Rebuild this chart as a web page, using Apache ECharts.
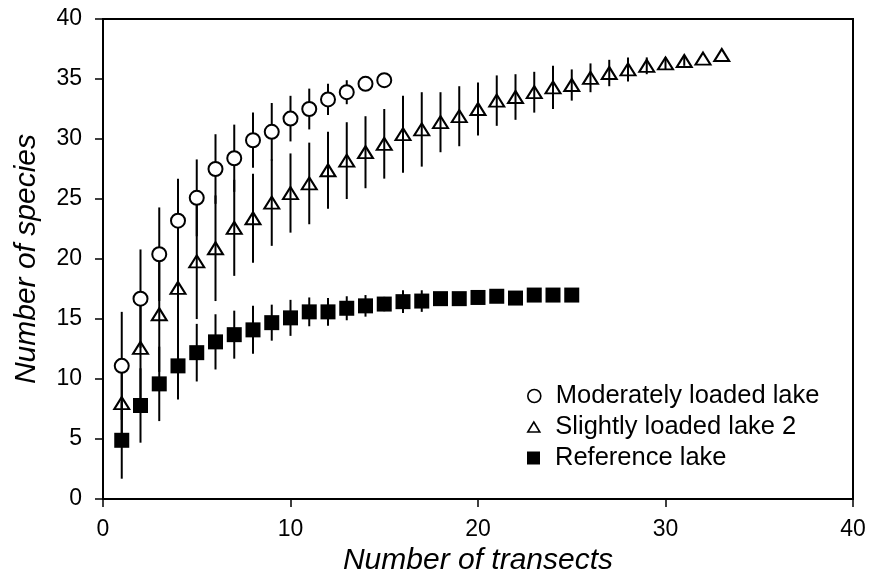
<!DOCTYPE html>
<html>
<head>
<meta charset="utf-8">
<script src="https://cdn.jsdelivr.net/npm/echarts@6/dist/echarts.min.js"></script>
<style>
  html, body { margin: 0; padding: 0; background: #fff; }
  #chart { width: 872px; height: 581px; }
</style>
</head>
<body>
<div id="chart"></div>
<script>
// ---- Data ----
const seriesNames = ['Moderately loaded lake', 'Slightly loaded lake 2', 'Reference lake'];

const modX   = [1,2,3,4,5,6,7,8,9,10,11,12,13,14,15];
const modY   = [11.1,16.7,20.4,23.2,25.1,27.5,28.4,29.9,30.6,31.7,32.5,33.3,33.9,34.6,34.9];
const modErr = [4.5,4.1,3.9,3.5,3.2,2.9,2.8,2.3,2.4,1.9,1.7,1.3,1.0,0,0];

const sliX   = [1,2,3,4,5,6,7,8,9,10,11,12,13,14,15,16,17,18,19,20,21,22,23,24,25,26,27,28,29,30,31,32,33];
const sliY   = [8.0,12.6,15.4,17.6,19.8,20.9,22.6,23.4,24.7,25.5,26.3,27.4,28.2,28.9,29.6,30.4,30.8,31.4,31.9,32.5,33.2,33.5,33.9,34.3,34.5,35.1,35.5,35.8,36.1,36.3,36.5,36.7,37.0];
const sliErr = [3.5,4.2,4.8,4.8,4.8,4.4,4.0,3.7,3.6,3.3,3.4,3.2,3.2,3.0,2.9,3.2,3.1,2.5,2.5,2.2,2.1,1.9,1.7,1.8,1.3,1.2,1.1,1.0,0.7,0.5,0.4,0,0];

const refX   = [1,2,3,4,5,6,7,8,9,10,11,12,13,14,15,16,17,18,19,20,21,22,23,24,25];
const refY   = [4.9,7.8,9.6,11.1,12.2,13.1,13.7,14.1,14.7,15.1,15.6,15.6,15.9,16.1,16.25,16.45,16.5,16.7,16.7,16.8,16.9,16.75,17.0,17.0,17.0];
const refErr = [3.2,3.1,3.1,2.8,2.4,2.3,2.0,2.0,1.5,1.5,1.2,1.15,1.0,0.9,0.6,0.95,0.9,0.4,0.3,0.2,0,0,0,0,0];

const xTicks = [0, 10, 20, 30, 40];
const yTicks = [0, 5, 10, 15, 20, 25, 30, 35, 40];

// ---- Build option ----
const FONT = '"Liberation Sans", Arial, Helvetica, sans-serif';

function pts(xs, ys) { return xs.map((x, i) => [x, ys[i]]); }
function bars(xs, ys, es) {
  return xs.map((x, i) => [x, ys[i] - es[i], ys[i] + es[i]]).filter((d, i) => es[i] > 0);
}
function errorSeries(data) {
  return {
    type: 'custom',
    z: 1,
    silent: true,
    data: data,
    encode: { x: 0, y: [1, 2] },
    renderItem: function (params, api) {
      const x = api.value(0);
      const p1 = api.coord([x, api.value(1)]);
      const p2 = api.coord([x, api.value(2)]);
      return {
        type: 'line',
        shape: { x1: p1[0], y1: p1[1], x2: p2[0], y2: p2[1] },
        style: { stroke: '#000', lineWidth: 2 }
      };
    }
  };
}

const circlePath = 'path://M10,5A5,5 0 1,1 0,5A5,5 0 1,1 10,5Z';
const triPath = 'path://M6,0L12,10L0,10Z';
const sqPath = 'path://M0,0L10,0L10,10L0,10Z';

function legendRow(name, icon, itemHeight, centerY, itemStyle) {
  return {
    left: 527,
    top: centerY - 13,
    padding: 0,
    orient: 'vertical',
    itemWidth: 33,
    itemHeight: itemHeight,
    selectedMode: false,
    textStyle: { fontSize: 25.5, color: '#000', fontFamily: FONT },
    data: [{ name: name, icon: icon, itemStyle: itemStyle }]
  };
}

const option = {
  animation: false,
  backgroundColor: '#fff',
  grid: {
    left: 103, top: 19, right: 19, bottom: 81,
    show: true, borderColor: '#000', borderWidth: 2, backgroundColor: 'transparent'
  },
  legend: [
    legendRow(seriesNames[0], circlePath, 13, 396, { color: '#fff', borderColor: '#000', borderWidth: 1.6 }),
    legendRow(seriesNames[1], triPath, 10, 427, { color: '#fff', borderColor: '#000', borderWidth: 1.6 }),
    legendRow(seriesNames[2], sqPath, 13, 458, { color: '#000', borderColor: '#000', borderWidth: 0 })
  ],
  xAxis: {
    type: 'value',
    min: xTicks[0], max: xTicks[xTicks.length - 1], interval: 10,
    name: 'Number of transects',
    nameLocation: 'middle',
    nameGap: 43,
    nameTextStyle: { fontSize: 30, fontStyle: 'italic', color: '#000', fontFamily: FONT },
    axisLine: { show: true, lineStyle: { color: '#000', width: 2 } },
    axisTick: { show: true, inside: false, length: 8, lineStyle: { color: '#000', width: 1.5 } },
    axisLabel: { fontSize: 23, color: '#000', fontFamily: FONT, margin: 19 },
    splitLine: { show: false }
  },
  yAxis: {
    type: 'value',
    min: yTicks[0], max: yTicks[yTicks.length - 1], interval: 5,
    name: 'Number of species',
    nameLocation: 'middle',
    nameGap: 61,
    nameRotate: 90,
    nameTextStyle: { fontSize: 30, fontStyle: 'italic', color: '#000', fontFamily: FONT },
    axisLine: { show: true, lineStyle: { color: '#000', width: 2 } },
    axisTick: { show: true, inside: false, length: 8, lineStyle: { color: '#000', width: 1.5 } },
    axisLabel: { fontSize: 23, color: '#000', fontFamily: FONT, margin: 21 },
    splitLine: { show: false }
  },
  series: [
    errorSeries(bars(refX, refY, refErr)),
    errorSeries(bars(sliX, sliY, sliErr)),
    errorSeries(bars(modX, modY, modErr)),
    {
      name: seriesNames[2],
      type: 'scatter',
      z: 2,
      symbol: 'rect',
      symbolSize: 15,
      itemStyle: { color: '#000', opacity: 1 },
      data: pts(refX, refY)
    },
    {
      name: seriesNames[1],
      type: 'scatter',
      z: 3,
      symbol: 'triangle',
      symbolSize: [15, 12],
      itemStyle: { color: 'rgba(255,255,255,0)', borderColor: '#000', borderWidth: 2, opacity: 1 },
      data: pts(sliX, sliY)
    },
    {
      name: seriesNames[0],
      type: 'scatter',
      z: 4,
      symbol: 'circle',
      symbolSize: 14,
      itemStyle: { color: '#fff', borderColor: '#000', borderWidth: 2, opacity: 1 },
      data: pts(modX, modY)
    }
  ]
};

const chart = echarts.init(document.getElementById('chart'), null, { renderer: 'canvas' });
chart.setOption(option);
</script>
</body>
</html>
